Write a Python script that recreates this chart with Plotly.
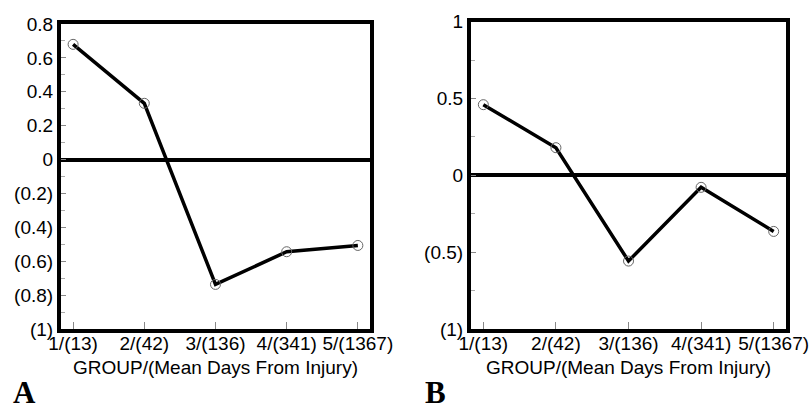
import plotly.graph_objects as go

groups = [1, 2, 3, 4, 5]
group_labels = ["1/(13)", "2/(42)", "3/(136)", "4/(341)", "5/(1367)"]
values_a = [0.68, 0.332, -0.737, -0.544, -0.507]
values_b = [0.46, 0.18, -0.558, -0.078, -0.365]

yticks_a = [0.8, 0.6, 0.4, 0.2, 0, -0.2, -0.4, -0.6, -0.8, -1]
ytext_a = ["0.8", "0.6", "0.4", "0.2", "0", "(0.2)", "(0.4)", "(0.6)", "(0.8)", "(1)"]
yticks_b = [1, 0.5, 0, -0.5, -1]
ytext_b = ["1", "0.5", "0", "(0.5)", "(1)"]

x_title = "GROUP/(Mean Days From Injury)"
font_family = "Arial"

fig = go.Figure()

for vals, xa, ya in [(values_a, "x", "y"), (values_b, "x2", "y2")]:
    fig.add_trace(go.Scatter(
        x=groups, y=vals, xaxis=xa, yaxis=ya, mode="lines+markers",
        line=dict(color="black", width=3.5),
        marker=dict(symbol="circle-open", size=10, color="#666666",
                    line=dict(width=1, color="#666666")),
        showlegend=False, cliponaxis=False,
    ))

common_x = dict(
    range=[0.83, 5.17], tickvals=groups, ticktext=group_labels,
    ticks="inside", ticklen=7, tickcolor="#888888", tickwidth=1,
    showline=True, linecolor="black", linewidth=4, mirror=True,
    showgrid=False, zeroline=False, automargin=False,
    ticklabelstandoff=-6, ticklabeloverflow="allow",
    tickfont=dict(family=font_family, size=19, color="black"),
    title=dict(text=x_title, font=dict(family=font_family, size=19, color="black"), standoff=9),
)
common_y = dict(
    ticks="inside", ticklen=5, tickcolor="#888888", tickwidth=1,
    showline=True, linecolor="black", linewidth=4, mirror=True,
    showgrid=False, zeroline=True, zerolinecolor="black", zerolinewidth=3.5,
    automargin=False, ticklabeloverflow="allow",
    tickfont=dict(family=font_family, size=19, color="black"),
)

fig.update_layout(
    width=809, height=412,
    margin=dict(l=0, r=0, t=0, b=0),
    paper_bgcolor="white", plot_bgcolor="white",
    xaxis=dict(domain=[0.0754, 0.4573], anchor="y", **common_x),
    yaxis=dict(domain=[0.2015, 0.9417], anchor="x", range=[-1, 0.8],
               tickvals=yticks_a, ticktext=ytext_a,
               minor=dict(dtick=0.1, tick0=0, ticks="inside", ticklen=4, tickcolor="#aaaaaa"),
               **common_y),
    xaxis2=dict(domain=[0.5822, 0.9716], anchor="y2", **common_x),
    yaxis2=dict(domain=[0.2015, 0.9473], anchor="x2", range=[-1, 1],
                tickvals=yticks_b, ticktext=ytext_b,
                minor=dict(dtick=0.25, tick0=0, ticks="inside", ticklen=4, tickcolor="#aaaaaa"),
                **common_y),
    annotations=[
        dict(text="<b>A</b>", x=24 / 809, y=0.0, xref="paper", yref="paper",
             xanchor="center", yanchor="bottom", showarrow=False,
             font=dict(family="Liberation Serif, Times New Roman, serif", size=31, color="black")),
        dict(text="<b>B</b>", x=435 / 809, y=0.0, xref="paper", yref="paper",
             xanchor="center", yanchor="bottom", showarrow=False,
             font=dict(family="Liberation Serif, Times New Roman, serif", size=31, color="black")),
    ],
)

fig.write_html("out.html", config={"displayModeBar": False},
               post_script="document.body.style.margin='0';")
